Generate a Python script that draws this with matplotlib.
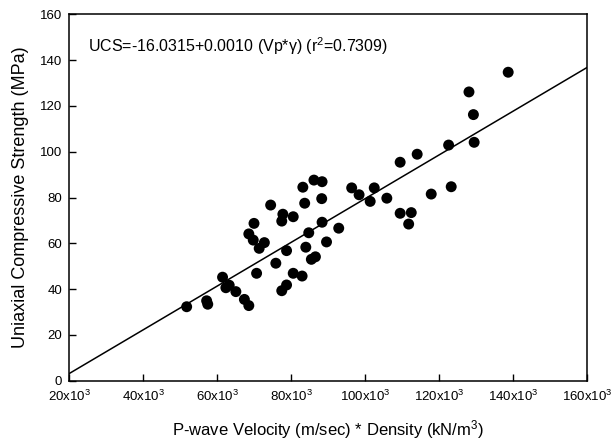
import matplotlib
matplotlib.use("Agg")
import matplotlib.pyplot as plt
import numpy as np
from matplotlib.ticker import FixedLocator, FixedFormatter

plt.rcParams['font.family'] = ['Liberation Sans', 'DejaVu Sans']
plt.rcParams['mathtext.fontset'] = 'custom'
plt.rcParams['mathtext.rm'] = 'Liberation Sans'
plt.rcParams['mathtext.it'] = 'Liberation Sans:italic'

# data (P-wave velocity * density, UCS)
vp_gamma = [51.8e3, 57.2e3, 57.5e3, 61.5e3, 62.4e3, 63.3e3, 65.1e3, 67.4e3, 68.6e3,
            70.7e3, 68.6e3, 70.0e3, 69.8e3, 71.4e3, 72.8e3, 74.5e3, 75.9e3, 77.5e3,
            78.8e3, 78.8e3, 77.8e3, 77.5e3, 80.6e3, 80.6e3, 83.0e3, 83.2e3, 83.7e3,
            84.8e3, 84.0e3, 85.5e3, 86.6e3, 86.2e3, 88.4e3, 88.3e3, 88.4e3, 89.6e3,
            92.9e3, 96.4e3, 98.4e3, 101.4e3, 102.5e3, 105.9e3, 109.5e3, 109.5e3,
            112.5e3, 111.8e3, 114.1e3, 117.9e3, 122.6e3, 123.3e3, 128.1e3, 129.3e3,
            129.5e3, 138.7e3]
ucs = [32.3, 34.9, 33.4, 45.2, 40.6, 41.7, 38.9, 35.5, 32.8,
       46.9, 64.1, 68.7, 61.4, 57.8, 60.3, 76.7, 51.3, 39.3,
       41.8, 56.8, 72.7, 69.7, 71.6, 46.9, 45.7, 84.5, 77.5,
       64.6, 58.3, 53.0, 54.1, 87.6, 86.9, 79.5, 69.2, 60.6,
       66.6, 84.2, 81.2, 78.3, 84.2, 79.7, 95.4, 73.1,
       73.4, 68.4, 98.9, 81.5, 102.9, 84.7, 126.1, 116.2,
       104.1, 134.7]

intercept = -16.0315
slope = 0.000955
x_ticks = [20e3, 40e3, 60e3, 80e3, 100e3, 120e3, 140e3, 160e3]
x_tick_labels = ['20x10$^3$', '40x10$^3$', '60x10$^3$', '80x10$^3$', '100x10$^3$',
                 '120x10$^3$', '140x10$^3$', '160x10$^3$']
y_ticks = [0, 20, 40, 60, 80, 100, 120, 140, 160]

fig = plt.figure(figsize=(6.14, 4.41), dpi=100)
ax = fig.add_axes([69/614, 1-380.7/441, (587-69)/614, (380.7-14.3)/441])

xl = np.array([20e3, 160e3])
ax.plot(xl, intercept + slope * xl, color='black', lw=1.1, zorder=2)
ax.scatter(vp_gamma, ucs, s=62, color='black', edgecolors='none', zorder=3)

ax.set_xlim(20e3, 160e3)
ax.set_ylim(0, 160)
ax.xaxis.set_major_locator(FixedLocator(x_ticks))
ax.xaxis.set_major_formatter(FixedFormatter(x_tick_labels))
ax.set_yticks(y_ticks)
ax.tick_params(direction='in', length=5, width=1, labelsize=9.5)
ax.tick_params(axis='x', pad=6)
ax.tick_params(axis='y', pad=5)
for s in ax.spines.values():
    s.set_linewidth(1.1)

ax.set_xlabel('P-wave Velocity (m/sec) * Density (kN/m$^3$)', fontsize=12, labelpad=10)
ax.set_ylabel('Uniaxial Compressive Strength (MPa)', fontsize=13, labelpad=8)

ax.text(25.1e3, 146.2, 'UCS=-16.0315+0.0010 (Vp*\u03b3) (r$^2$=0.7309)', fontsize=11.5,
        ha='left', va='center')

fig.savefig('out.png', dpi=100)
